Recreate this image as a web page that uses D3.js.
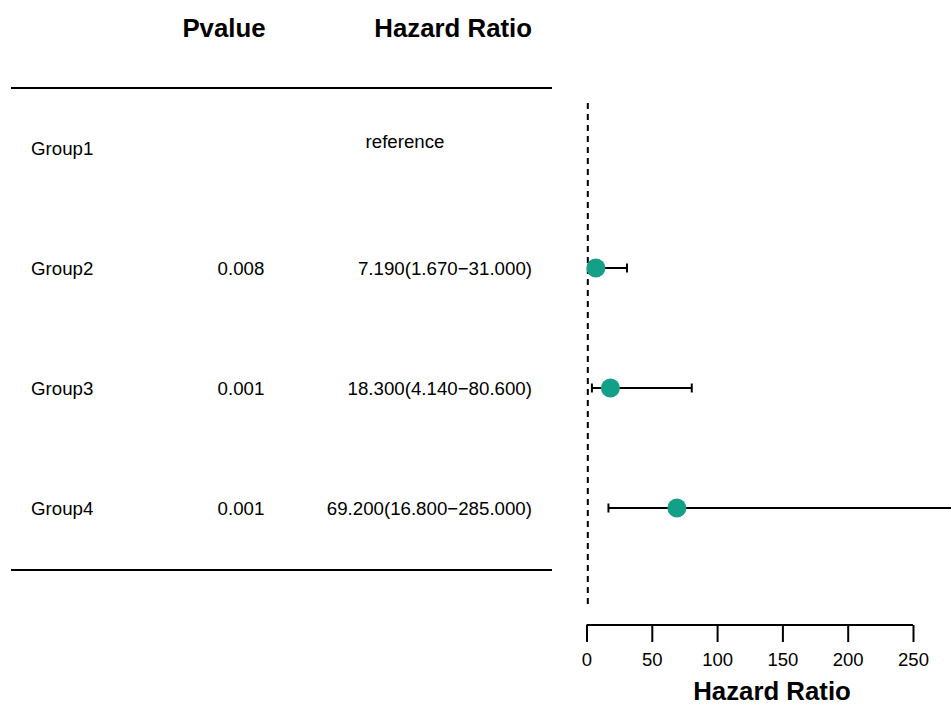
<!DOCTYPE html>
<html>
<head>
<meta charset="utf-8">
<style>
  body { margin: 0; background: #fff; }
  svg { display: block; font-family: "Liberation Sans", Arial, Helvetica, sans-serif; }
</style>
</head>
<body>
<svg id="forest" width="951" height="704"></svg>
<script src="https://d3js.org/d3.v7.min.js"></script>
<script>

var groups = ["Group1", "Group2", "Group3", "Group4"];
var pvalues = ["", "0.008", "0.001", "0.001"];
var hr = [null, 7.19, 18.3, 69.2];
var lower = [null, 1.67, 4.14, 16.8];
var upper = [null, 31.0, 80.6, 285.0];
var hrLabels = ["reference", "7.190(1.670\u221231.000)", "18.300(4.140\u221280.600)", "69.200(16.800\u2212285.000)"];
var xTicks = [0, 50, 100, 150, 200, 250];

var svg = d3.select("#forest");
var width = +svg.attr("width"),
    height = +svg.attr("height");

var x = d3.scaleLinear().domain([0, 250]).range([586.5, 913]);
var y = d3.scalePoint().domain(groups).range([148, 508]);

// table header
svg.append("text")
    .attr("x", 224).attr("y", 37)
    .attr("text-anchor", "middle")
    .style("font-size", "25.8px").style("font-weight", "bold")
    .text("Pvalue");
svg.append("text")
    .attr("x", 532).attr("y", 37)
    .attr("text-anchor", "end")
    .style("font-size", "25.8px").style("font-weight", "bold")
    .text("Hazard Ratio");

// rules
[88, 570].forEach(function (yy) {
  svg.append("line")
      .attr("x1", 11).attr("x2", 552)
      .attr("y1", yy).attr("y2", yy)
      .attr("stroke", "#000").attr("stroke-width", 2);
});

var rows = svg.selectAll("g.row")
    .data(groups)
    .enter().append("g")
      .attr("class", "row");

rows.append("text")
    .attr("x", 31)
    .attr("y", function (d) { return y(d) + 7; })
    .style("font-size", "18.7px")
    .text(function (d) { return d; });

rows.append("text")
    .attr("x", 241)
    .attr("y", function (d) { return y(d) + 7; })
    .attr("text-anchor", "middle")
    .style("font-size", "18.7px")
    .text(function (d, i) { return pvalues[i]; });

rows.append("text")
    .attr("x", function (d, i) { return hr[i] === null ? 405 : 532; })
    .attr("y", function (d, i) { return y(d) + (hr[i] === null ? 0 : 7); })
    .attr("text-anchor", function (d, i) { return hr[i] === null ? "middle" : "end"; })
    .style("font-size", "18.7px")
    .text(function (d, i) { return hrLabels[i]; });

// reference line at HR = 1
svg.append("line")
    .attr("x1", x(1)).attr("x2", x(1))
    .attr("y1", 103).attr("y2", 608)
    .attr("stroke", "#000").attr("stroke-width", 2)
    .attr("stroke-dasharray", "6,5");

// error bars and points
var idx = d3.range(groups.length).filter(function (i) { return hr[i] !== null; });

var marks = svg.selectAll("g.mark")
    .data(idx)
    .enter().append("g")
      .attr("class", "mark");

marks.append("line")
    .attr("x1", function (i) { return x(lower[i]); })
    .attr("x2", function (i) { return Math.min(x(upper[i]), width); })
    .attr("y1", function (i) { return y(groups[i]); })
    .attr("y2", function (i) { return y(groups[i]); })
    .attr("stroke", "#000").attr("stroke-width", 2);

marks.append("line")
    .attr("x1", function (i) { return x(lower[i]); })
    .attr("x2", function (i) { return x(lower[i]); })
    .attr("y1", function (i) { return y(groups[i]) - 4.5; })
    .attr("y2", function (i) { return y(groups[i]) + 4.5; })
    .attr("stroke", "#000").attr("stroke-width", 2);

marks.filter(function (i) { return x(upper[i]) <= width; })
  .append("line")
    .attr("x1", function (i) { return x(upper[i]); })
    .attr("x2", function (i) { return x(upper[i]); })
    .attr("y1", function (i) { return y(groups[i]) - 4.5; })
    .attr("y2", function (i) { return y(groups[i]) + 4.5; })
    .attr("stroke", "#000").attr("stroke-width", 2);

marks.append("circle")
    .attr("cx", function (i) { return x(hr[i]); })
    .attr("cy", function (i) { return y(groups[i]); })
    .attr("r", 9.5)
    .attr("fill", "#13a086");

// x axis
var axis = svg.append("g")
    .attr("transform", "translate(0,625)")
    .call(d3.axisBottom(x).tickValues(xTicks).tickSize(17).tickPadding(11));
axis.select(".domain").attr("stroke-width", 2).attr("d", "M" + x(0) + ",0H" + x(250));
axis.selectAll(".tick line").attr("stroke-width", 2);
axis.selectAll(".tick text")
    .style("font-size", "18.5px")
    .style("font-family", "'Liberation Sans', Arial, sans-serif")
    .attr("fill", "#000");

svg.append("text")
    .attr("x", 772).attr("y", 700)
    .attr("text-anchor", "middle")
    .style("font-size", "25.8px").style("font-weight", "bold")
    .text("Hazard Ratio");

</script>
</body>
</html>
